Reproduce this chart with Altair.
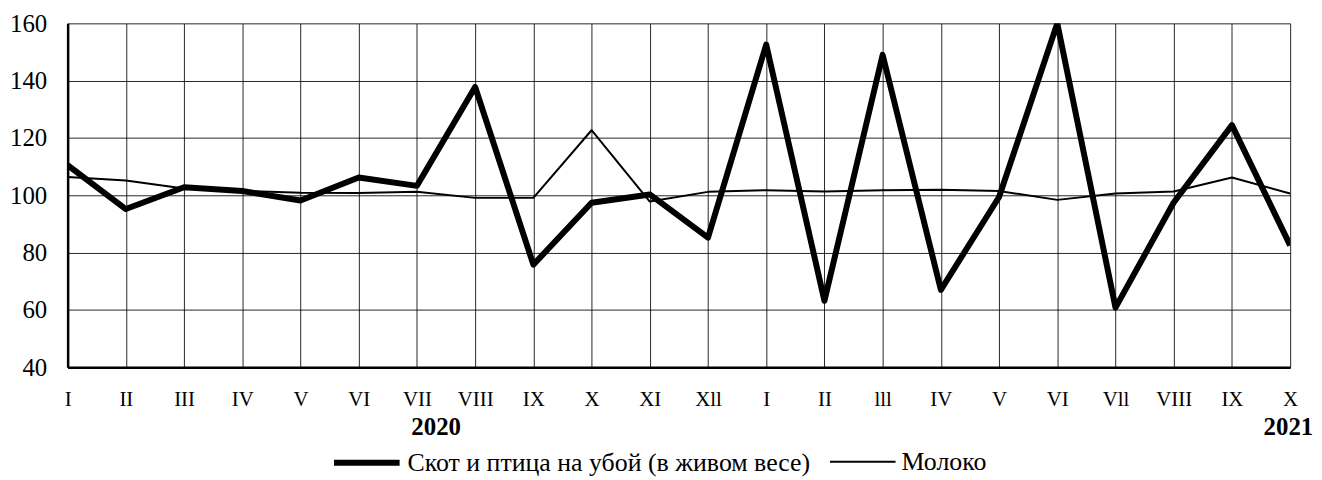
import json
import altair as alt
import pandas as pd

months = ["I", "II", "III", "IV", "V", "VI", "VII", "VIII", "IX", "X", "XI", "Xll",
          "I", "II", "lll", "IV", "V", "VI", "Vll", "VIII", "IX", "X"]
livestock = [110.5, 95.2, 102.8, 101.5, 98.2, 106.2, 103.3, 137.8, 75.8, 97.4, 100.3, 85.2,
             152.6, 63.2, 149.0, 67.0, 99.4, 160.0, 60.8, 97.5, 124.5, 82.5]
milk = [106.4, 105.2, 102.4, 101.5, 100.9, 100.8, 101.2, 99.1, 99.1, 122.7, 97.8, 101.2,
        101.8, 101.3, 101.8, 101.9, 101.5, 98.4, 100.6, 101.3, 106.2, 100.6]
series_names = ["Скот и птица на убой (в живом весе)", "Молоко"]
years = ["2020", "2021"]
year_pos = [6.33, 20.97]
y_ticks = [40, 60, 80, 100, 120, 140, 160]

FONT = "Liberation Serif"

rows = []
for i in range(len(months)):
    rows.append({"idx": i, "value": livestock[i], "series": series_names[0]})
    rows.append({"idx": i, "value": milk[i], "series": series_names[1]})
df = pd.DataFrame(rows)
ydf = pd.DataFrame({"pos": year_pos, "year": years})

label_expr = json.dumps(months) + "[datum.value]"

x_scale = alt.Scale(domain=[0, len(months) - 1], nice=False, zero=False)
y_scale = alt.Scale(domain=[40, 160], nice=False, zero=False)

lines = alt.Chart(df).mark_line(color="black", strokeJoin="round", clip=True).encode(
    x=alt.X("idx:Q", scale=x_scale, title=None,
            axis=alt.Axis(values=list(range(len(months))), labelExpr=label_expr,
                          grid=True, gridColor="black", gridWidth=1, gridOpacity=0.85,
                          domainColor="black", domainWidth=2.5, ticks=False, tickSize=0,
                          labelFont=FONT, labelFontSize=21, labelColor="black",
                          labelPadding=32, labelBaseline="middle",
                          labelFlush=False, labelOverlap=False, labelBound=False)),
    y=alt.Y("value:Q", scale=y_scale, title=None,
            axis=alt.Axis(values=y_ticks, grid=True, gridColor="black", gridWidth=1,
                          gridOpacity=0.85, domainColor="black", domainWidth=2.5,
                          ticks=False, tickSize=0, labelFont=FONT, labelFontSize=25,
                          labelColor="black", labelPadding=21, labelFlush=False,
                          labelOverlap=False)),
    strokeWidth=alt.StrokeWidth(
        "series:N",
        scale=alt.Scale(domain=series_names, range=[6, 2]),
        sort=series_names,
        legend=alt.Legend(title=None, orient="none", legendX=265, legendY=406,
                          direction="horizontal", symbolType="stroke",
                          symbolSize=4356, symbolStrokeColor="black",
                          labelFont=FONT, labelFontSize=26, labelColor="black",
                          labelOffset=5, columnPadding=15, labelLimit=700)),
    detail="series:N",
)

year_text = alt.Chart(ydf).mark_text(font=FONT, fontSize=25, fontWeight="bold",
                                     color="black", baseline="middle", align="center",
                                     dy=60).encode(
    x=alt.X("pos:Q", scale=x_scale),
    y=alt.datum(40, scale=y_scale),
    text="year:N",
)

chart = alt.layer(lines, year_text).properties(
    width=1230, height=346,
    autosize=alt.AutoSizeParams(type="none"),
    padding={"left": 60, "top": 14, "right": 24, "bottom": 112},
).configure_view(stroke=None)

chart.save("out.html", embed_options={"renderer": "svg", "actions": False})
